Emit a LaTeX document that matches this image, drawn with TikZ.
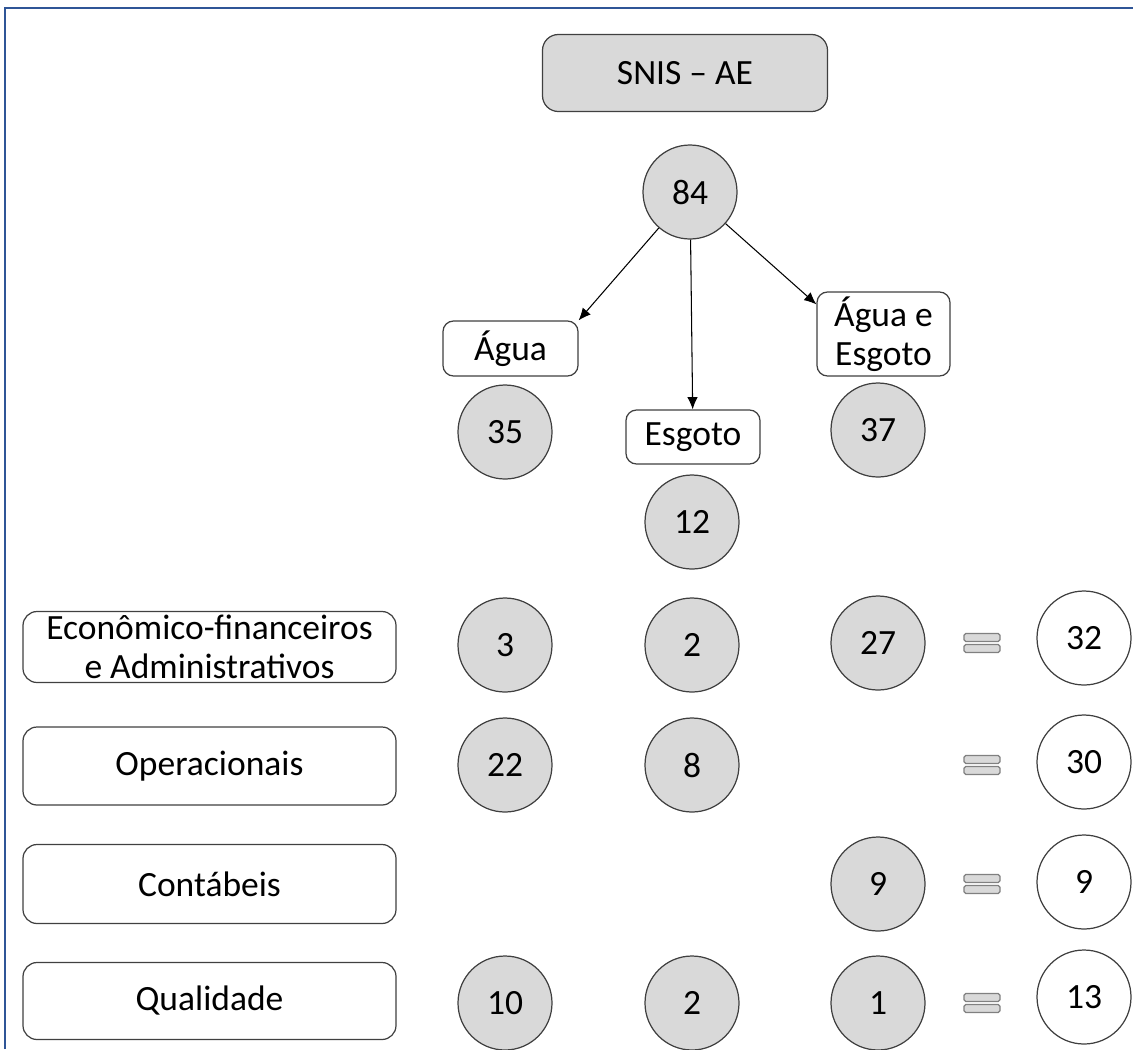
\documentclass[tikz,border=0pt]{standalone}
\usepackage{fontspec}
\setmainfont{Carlito}
\usepackage{xcolor}
\usepackage{tikz}
\usetikzlibrary{arrows.meta, positioning}

\definecolor{boxgray}{HTML}{D9D9D9}
\definecolor{linegray}{HTML}{404040}
\definecolor{frameblue}{HTML}{2F5597}

\begin{document}
\begin{tikzpicture}[
    font=\fontsize{20.2}{22.5}\selectfont,
    every node/.style={draw=linegray, line width=0.7pt, inner sep=0pt},
    title/.style={rectangle, rounded corners=9pt, fill=boxgray, minimum width=5.7cm, minimum height=1.54cm},
    tag/.style={rectangle, rounded corners=6pt, fill=white, align=center},
    category/.style={rectangle, rounded corners=8pt, fill=white, minimum width=7.46cm, align=center},
    count/.style={circle, fill=boxgray, minimum size=1.88cm},
    total/.style={circle, fill=white, minimum size=1.88cm},
    eqbar/.style={rectangle, rounded corners=1pt, fill=boxgray, draw=gray, minimum width=0.72cm, minimum height=0.16cm},
]
  \useasboundingbox (0,0) rectangle (22.66,-20.98);

  % frame
  \draw[frameblue, line width=1.6pt] (0.1,-20.98) -- (0.1,-0.16) -- (22.66,-0.16);

  % top of the tree
  \node[title] (snis) at (13.70,-1.46) {SNIS -- AE};
  \node[count] (c84) at (13.80,-3.84) {84};

  % service types
  \node[tag, minimum width=2.70cm, minimum height=1.10cm] (agua) at (10.21,-6.97) {Água};
  \node[tag, minimum width=2.68cm, minimum height=1.08cm] (esgoto) at (13.86,-8.74) {Esgoto};
  \node[tag, minimum width=2.66cm, minimum height=1.68cm] (aguaesgoto) at (17.67,-6.68) {Água e\\Esgoto};

  \node[count] (c35) at (10.10,-8.64) {35};
  \node[count] (c12) at (13.84,-10.44) {12};
  \node[count] (c37) at (17.56,-8.60) {37};

  \draw[-{Latex[length=7pt, width=6pt]}, line width=0.6pt] (c84) -- (agua.north east);
  \draw[-{Latex[length=7pt, width=6pt]}, line width=0.6pt] (c84) -- (esgoto);
  \draw[-{Latex[length=7pt, width=6pt]}, line width=0.6pt] (c84) -- ([yshift=-0.26cm]aguaesgoto.north west);

  % indicator groups
  \node[category, minimum height=1.42cm] (econ) at (4.19,-12.94) {Econômico-financeiros\\e Administrativos};
  \node[category, minimum height=1.56cm] (oper) at (4.19,-15.32) {Operacionais};
  \node[category, minimum height=1.58cm] (cont) at (4.19,-17.68) {Contábeis};
  \node[category, minimum height=1.54cm] (qual) at (4.19,-20.02) {Qualidade};

  % row 1
  \node[count] (econA) at (10.10,-12.90) {3};
  \node[count] (econB) at (13.84,-12.90) {2};
  \node[count] (econC) at (17.56,-12.86) {27};
  \node[total] (econT) at (21.68,-12.76) {32};

  % row 2
  \node[count] (operA) at (10.10,-15.30) {22};
  \node[count] (operB) at (13.84,-15.30) {8};
  \node[total] (operT) at (21.68,-15.24) {30};

  % row 3
  \node[count] (contC) at (17.56,-17.68) {9};
  \node[total] (contT) at (21.68,-17.64) {9};

  % row 4
  \node[count] (qualA) at (10.10,-20.06) {10};
  \node[count] (qualB) at (13.84,-20.06) {2};
  \node[count] (qualC) at (17.56,-20.06) {1};
  \node[total] (qualT) at (21.68,-19.94) {13};

  % equals signs
  \foreach \row/\y in {econ/-12.86, oper/-15.30, cont/-17.68, qual/-20.06} {
    \node[eqbar] (\row eqa) at (19.64,\y+0.11) {};
    \node[eqbar] (\row eqb) at (19.64,\y-0.11) {};
  }
\end{tikzpicture}
\end{document}
